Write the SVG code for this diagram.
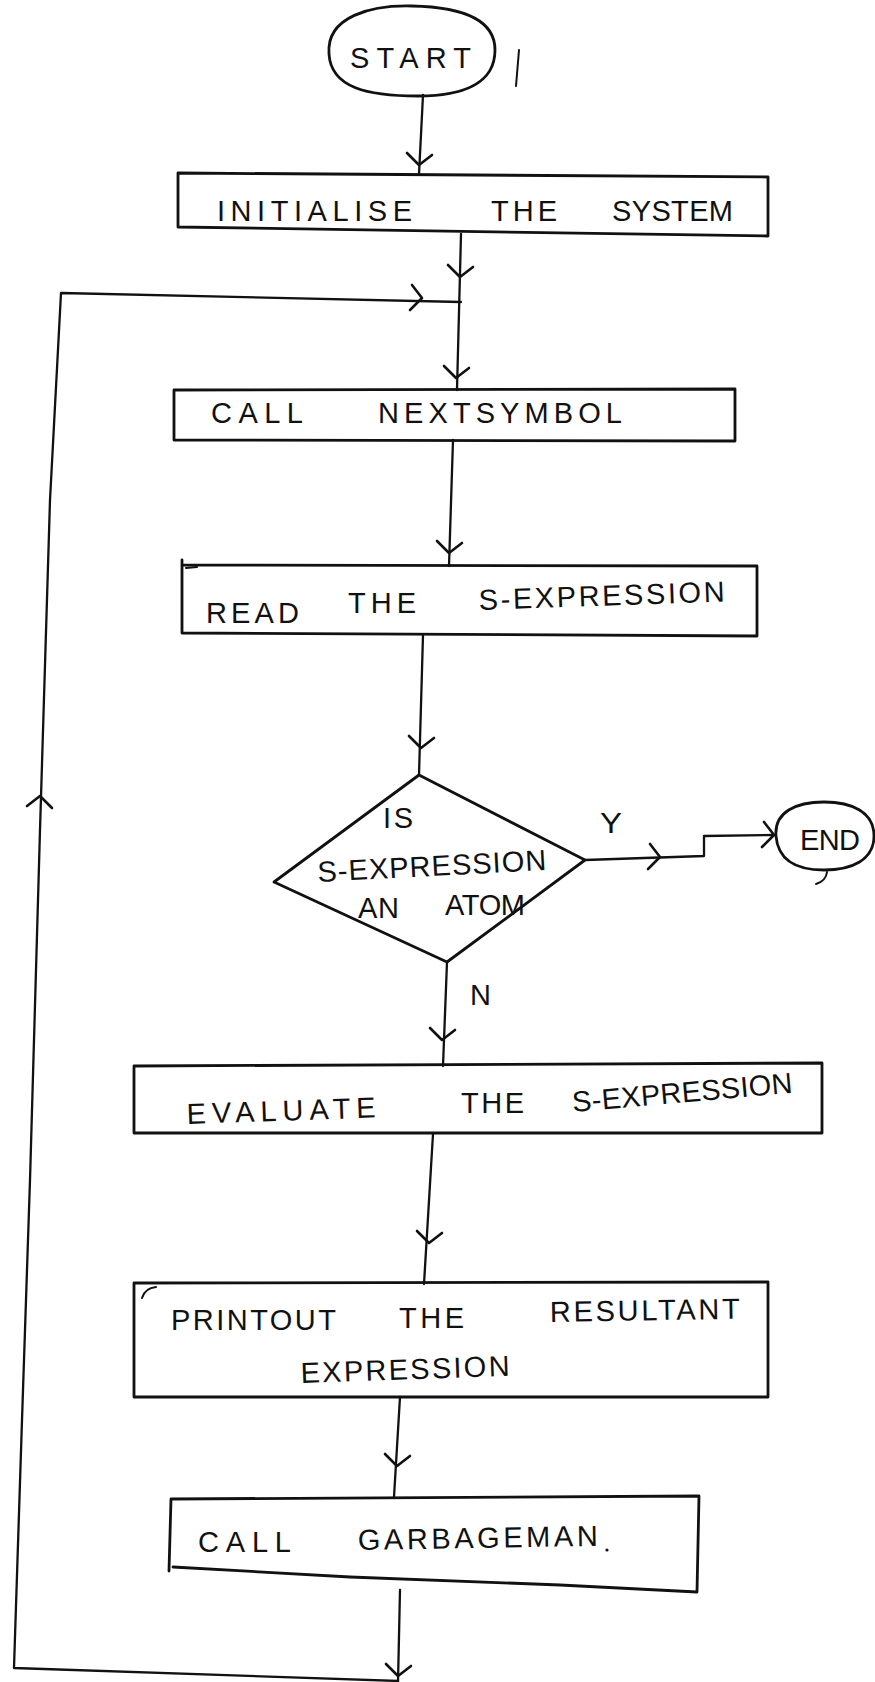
<svg xmlns="http://www.w3.org/2000/svg" width="875" height="1682" viewBox="0 0 875 1682">
  <style>
    .box { fill: none; stroke: #111; stroke-width: 2.8; stroke-linejoin: round; stroke-linecap: round; }
    .line { fill: none; stroke: #111; stroke-width: 2.3; stroke-linejoin: round; stroke-linecap: round; }
    .mark { fill: none; stroke: #111; stroke-width: 2; stroke-linecap: round; }
    text { font-family: "Liberation Sans", "DejaVu Sans", sans-serif; fill: #111; font-size: 29px; }
  </style>
  <defs>
    <!-- open hand-drawn chevron pointing down; rotated for other directions -->
    <path id="chev" d="M-12,-12 L0,0 L13,-10" fill="none" stroke="#111" stroke-width="2.6" stroke-linecap="round" stroke-linejoin="round"/>
  </defs>
  <rect width="875" height="1682" fill="#fff"/>

  <!-- connectors -->
  <g id="connectors">
    <path class="line" d="M423,95 L419,174"/>
    <use href="#chev" transform="translate(419,165)"/>

    <path class="line" d="M461,234 L457,390"/>
    <use href="#chev" transform="translate(460,277)"/>
    <use href="#chev" transform="translate(456,378)"/>

    <path class="line" d="M453,440 L449,566"/>
    <use href="#chev" transform="translate(449,553)"/>

    <path class="line" d="M423,635 L419,775"/>
    <use href="#chev" transform="translate(421,748)"/>

    <!-- yes branch to END -->
    <path class="line" d="M585,860 L704,856 L704,836 L774,835"/>
    <use href="#chev" transform="translate(660,857) rotate(-90)"/>
    <use href="#chev" transform="translate(774,835) rotate(-90)"/>
    <text x="600" y="833" font-size="32" textLength="22" lengthAdjust="spacingAndGlyphs">Y</text>

    <!-- no branch -->
    <path class="line" d="M447,962 L443,1066"/>
    <use href="#chev" transform="translate(442,1040)"/>
    <text x="470" y="1005" font-size="30">N</text>

    <path class="line" d="M433,1134 L424,1284"/>
    <use href="#chev" transform="translate(429,1243)"/>

    <path class="line" d="M400,1397 L394,1497"/>
    <use href="#chev" transform="translate(397,1466)"/>

    <!-- return loop -->
    <path class="line" d="M400,1590 L398,1682"/>
    <use href="#chev" transform="translate(398,1676)"/>
    <path class="line" d="M398,1681 L14,1668 L22,1420 L30,1180 L40,830 L50,500 L61,293 L461,302"/>
    <use href="#chev" transform="translate(40,796) rotate(180)"/>
    <use href="#chev" transform="translate(422,298) rotate(-90)"/>
  </g>

  <g id="start">
    <path class="box" d="M329,54 C326,16 372,5 412,6 C458,7 495,18 495,50 C495,84 462,96 418,96 C368,96 331,88 329,54 Z"/>
    <text x="350" y="68" font-size="33" textLength="121" lengthAdjust="spacing">START</text>
  </g>

  <g id="init">
    <polygon class="box" points="178,173 768,177 768,236 178,227"/>
    <text x="217" y="221" textLength="195" lengthAdjust="spacing">INITIALISE</text>
    <text x="491" y="221" textLength="66" lengthAdjust="spacing">THE</text>
    <text x="612" y="221" textLength="121" lengthAdjust="spacing">SYSTEM</text>
  </g>

  <g id="nextsymbol">
    <polygon class="box" points="174,390 735,389 735,441 174,440"/>
    <text x="211" y="423" textLength="92" lengthAdjust="spacing">CALL</text>
    <text x="378" y="423" textLength="244" lengthAdjust="spacing">NEXTSYMBOL</text>
  </g>

  <g id="read">
    <path class="box" d="M182,560 L182,633 L757,636 L757,566 L182,565"/>
    <path class="mark" d="M186,568 L197,567"/>
    <text x="206" y="623" font-size="30" textLength="93" lengthAdjust="spacing">READ</text>
    <text x="348" y="613" textLength="68" lengthAdjust="spacing">THE</text>
    <text x="479" y="610" textLength="246" lengthAdjust="spacing" transform="rotate(-2 479 610)">S-EXPRESSION</text>
  </g>

  <g id="decision">
    <polygon class="box" points="419,775 585,860 447,962 274,882"/>
    <text x="383" y="828" font-size="22" textLength="30" lengthAdjust="spacing">IS</text>
    <text x="318" y="882" font-size="22" textLength="229" lengthAdjust="spacing" transform="rotate(-3 318 882)">S-EXPRESSION</text>
    <text x="358" y="918" font-size="25" textLength="41" lengthAdjust="spacing">AN</text>
    <text x="445" y="915" font-size="25" textLength="80" lengthAdjust="spacing">ATOM</text>
  </g>

  <g id="end">
    <path class="box" d="M776,836 C774,812 796,802 824,802 C852,802 874,812 874,836 C874,860 852,870 824,870 C796,870 778,860 776,836 Z"/>
    <text x="800" y="850" textLength="60" lengthAdjust="spacing">END</text>
  </g>

  <g id="evaluate">
    <polygon class="box" points="134,1066 822,1063 822,1133 134,1133"/>
    <text x="187" y="1124" font-size="30" textLength="189" lengthAdjust="spacing" transform="rotate(-2 187 1124)">EVALUATE</text>
    <text x="461" y="1113" font-size="27" textLength="63" lengthAdjust="spacing">THE</text>
    <text x="573" y="1112" font-size="27" textLength="221" lengthAdjust="spacing" transform="rotate(-5 573 1112)">S-EXPRESSION</text>
  </g>

  <g id="printout">
    <polygon class="box" points="134,1283 768,1282 768,1397 134,1397"/>
    <path class="mark" d="M142,1298 Q145,1288 156,1287"/>
    <text x="171" y="1330" textLength="165" lengthAdjust="spacing">PRINTOUT</text>
    <text x="399" y="1328" textLength="65" lengthAdjust="spacing">THE</text>
    <text x="550" y="1322" textLength="190" lengthAdjust="spacing" transform="rotate(-1 550 1322)">RESULTANT</text>
    <text x="301" y="1383" textLength="209" lengthAdjust="spacing" transform="rotate(-2 301 1383)">EXPRESSION</text>
  </g>

  <g id="garbageman">
    <path class="box" d="M171,1499 L699,1496 L697,1592 L560,1585 L350,1577 L173,1567 M171,1499 L169,1571"/>
    <text x="198" y="1552" font-size="29" textLength="93" lengthAdjust="spacing">CALL</text>
    <text x="358" y="1550" font-size="29" textLength="240" lengthAdjust="spacing" transform="rotate(-1 358 1550)">GARBAGEMAN</text>
    <circle cx="607" cy="1550" r="1.6" fill="#111"/>
  </g>

  <!-- loose pen strokes -->
  <g id="strokes">
    <path class="mark" d="M519,50 L516,86"/>
    <path class="mark" d="M816,884 Q826,881 827,872"/>
  </g>
</svg>
